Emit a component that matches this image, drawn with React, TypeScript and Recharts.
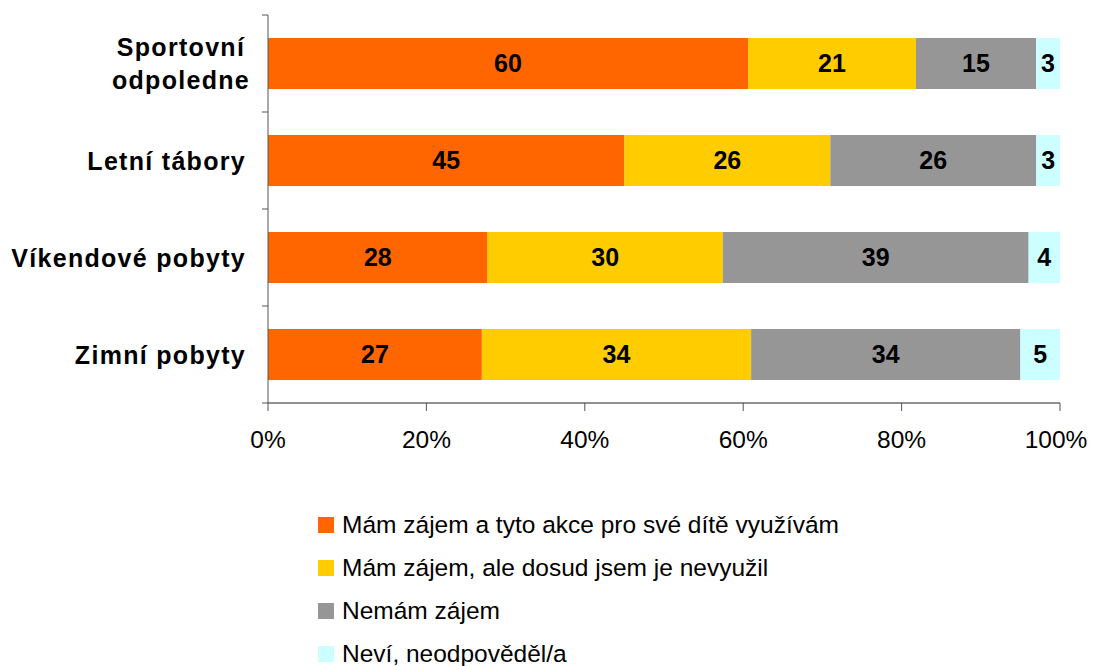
import { BarChart, Bar, XAxis, YAxis, Legend, LabelList } from "recharts";

const categories = ["Sportovní odpoledne", "Letní tábory", "Víkendové pobyty", "Zimní pobyty"];
const usingIt = [60, 45, 28, 27];
const interestedNotUsed = [21, 26, 30, 34];
const notInterested = [15, 26, 39, 34];
const dontKnow = [3, 3, 4, 5];
const xTicks = [0, 0.2, 0.4, 0.6, 0.8, 1];

const series = [
    { key: "a", name: "Mám zájem a tyto akce pro své dítě využívám", color: "#FF6600" },
    { key: "b", name: "Mám zájem, ale dosud jsem je nevyužil", color: "#FFCC00" },
    { key: "c", name: "Nemám zájem", color: "#969696" },
    { key: "d", name: "Neví, neodpověděl/a", color: "#CCFFFF" },
];

const data = categories.map((name, i) => ({
    name,
    a: usingIt[i],
    b: interestedNotUsed[i],
    c: notInterested[i],
    d: dontKnow[i],
}));

const FONT = "'Liberation Sans', Arial, sans-serif";

// long labels go on two lines, like the Excel original
function splitLabel(label: string) {
    if (label.length <= 16) return [label];
    return label.split(" ");
}

function CategoryTick(props: any) {
    const { x, y, payload, index } = props;
    const half = payload && typeof payload.offset === "number" ? payload.offset : 0;
    const axisX = x + 22;
    const lines = splitLabel(String(payload.value));
    const lineH = 33;
    const startY = y - ((lines.length - 1) * lineH) / 2;
    const multi = lines.length > 1;
    // multi-line labels are centred on each other, the block is right-aligned
    const cx = x - 65;
    return (
        <g>
            {/* boundary ticks between categories */}
            <line x1={axisX - 6} x2={axisX} y1={y - half} y2={y - half} stroke="#555" />
            {index === categories.length - 1 && (
                <line x1={axisX - 6} x2={axisX} y1={y + half} y2={y + half} stroke="#555" />
            )}
            <text
                x={multi ? cx : x}
                y={startY}
                textAnchor={multi ? "middle" : "end"}
                dominantBaseline="central"
                fontFamily={FONT}
                fontWeight="bold"
                fontSize={25}
                letterSpacing={1.3}
                fill="#000"
            >
                {lines.map((l, i) => (
                    <tspan key={i} x={multi ? cx : x} dy={i === 0 ? 0 : lineH}>
                        {l}
                    </tspan>
                ))}
            </text>
        </g>
    );
}

function PercentTick(props: any) {
    const { x, y, payload } = props;
    // nudge the 100% label so it stays inside the page
    const dx = payload.value === 1 ? -4 : 0;
    return (
        <text x={x + dx} y={y} dy="0.71em" textAnchor="middle" fontFamily={FONT} fontSize={24.5} fill="#000">
            {`${Math.round(payload.value * 100)}%`}
        </text>
    );
}

function LegendBox() {
    return (
        <div style={{ fontFamily: FONT, fontSize: 24.5, lineHeight: "24px", color: "#000" }}>
            {series.map((s, i) => (
                <div
                    key={s.key}
                    style={{
                        display: "flex",
                        alignItems: "center",
                        height: 24,
                        marginBottom: i === series.length - 1 ? 0 : 19,
                    }}
                >
                    <span style={{ width: 16, height: 16, background: s.color, marginRight: 8, display: "inline-block" }} />
                    <span>{s.name}</span>
                </div>
            ))}
        </div>
    );
}

export default function App() {
    return (
        <BarChart
            width={1080}
            height={658}
            data={data}
            layout="vertical"
            stackOffset="expand"
            margin={{ top: 7, right: 28, bottom: 203, left: 0 }}
        >
            <XAxis
                type="number"
                domain={[0, 1]}
                ticks={xTicks}
                tickSize={8}
                tickMargin={20}
                height={60}
                axisLine={{ stroke: "#222" }}
                tickLine={{ stroke: "#555" }}
                tick={<PercentTick />}
            />
            <YAxis
                type="category"
                dataKey="name"
                width={260}
                tickLine={false}
                tickSize={0}
                tickMargin={22}
                axisLine={{ stroke: "#555" }}
                tick={<CategoryTick />}
                interval={0}
            />
            <Legend
                layout="vertical"
                align="center"
                verticalAlign="middle"
                wrapperStyle={{ left: 310, top: 505, width: 660 }}
                content={<LegendBox />}
            />
            {series.map((s) => (
                <Bar key={s.key} dataKey={s.key} name={s.name} stackId="all" fill={s.color} barSize={51} isAnimationActive={false}>
                    <LabelList
                        dataKey={s.key}
                        position="center"
                        fill="#000"
                        fontSize={25}
                        fontWeight="bold"
                        fontFamily={FONT}
                    />
                </Bar>
            ))}
        </BarChart>
    );
}
